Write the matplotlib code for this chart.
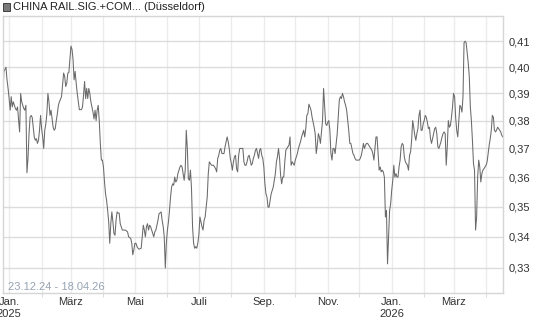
import matplotlib
matplotlib.use("Agg")
import matplotlib.pyplot as plt
from matplotlib.patches import Rectangle
from matplotlib.ticker import FixedLocator, NullLocator, FuncFormatter
import pandas as pd

plt.rcParams["font.family"] = ["Liberation Sans", "DejaVu Sans"]

TITLE = "CHINA RAIL.SIG.+COM... (Düsseldorf)"
RANGE_TEXT = "23.12.24 - 18.04.26"
START = pd.Timestamp("2024-12-23")

# days after 23.12.24 and the price on that day
day_offsets = [
    3, 4, 6, 7, 8, 9, 10, 11, 12, 13, 14, 15, 16, 17, 18, 19, 20, 21, 23, 24,
    25, 26, 27, 28, 29, 30, 31, 32, 33, 34, 35, 36, 37, 38, 39, 40, 41, 42, 43, 44,
    45, 46, 47, 48, 49, 50, 51, 52, 53, 54, 55, 56, 57, 59, 60, 61, 62, 63, 64, 65,
    66, 67, 68, 69, 70, 71, 72, 73, 74, 75, 76, 78, 79, 80, 81,
    82, 83, 84, 85, 86, 87, 88, 89, 90, 91, 92, 93, 94, 95, 96, 97, 98, 99, 100, 101,
    102, 103, 104, 105, 106, 107, 108, 109, 110, 111, 112, 113, 114, 115, 116, 117, 119, 120, 122, 123,
    125, 126, 127, 128, 129, 130, 131, 132, 133, 135, 136, 137, 138, 139, 140, 141, 142, 143, 144, 145,
    146, 147, 148, 149, 150, 151, 152, 154, 155, 156, 157, 158, 159, 160, 161,
    162, 163, 164, 165, 166, 167, 168, 169, 170, 171, 172, 173, 174, 175, 176, 177, 178, 179, 180, 181,
    182, 183, 184, 185, 186, 187, 188, 189, 190, 191, 192, 193, 194, 195, 196, 197, 198, 199, 200, 201,
    202, 203, 204, 205, 206, 207, 208, 209, 210, 211, 212, 213, 214, 215, 216, 217, 218, 219, 220, 221,
    222, 223, 224, 225, 226, 227, 228, 229, 230, 231, 232, 233, 234, 235, 236, 237, 238, 239, 240, 241,
    242, 243, 244, 245, 246, 247, 248, 249, 250, 251, 252, 253, 254, 255, 256, 257, 258, 259, 260, 261,
    262, 263, 264, 265, 266, 267, 268, 269, 270, 271, 272, 273, 274, 275, 276, 277, 278, 279, 280, 281,
    282, 283, 284, 285, 286, 287, 288, 289, 290, 291, 292, 293, 294, 295, 296, 297, 298, 299, 300, 301,
    302, 303, 304, 305, 306, 307, 308, 309, 310, 311, 312, 313, 314, 315, 316, 317, 318, 319, 320, 321,
    322, 323, 324, 325, 326, 327, 328, 329, 330, 331, 332, 333, 334, 335, 336, 337, 338, 339, 340, 341,
    343, 344, 345, 346, 347, 348, 349, 350, 351, 352, 353, 354, 355, 356, 357, 358, 359, 360, 361, 362,
    363, 364, 365, 366, 367, 368, 369, 370, 371, 372, 373, 374, 375, 376, 377, 378, 379, 380, 381, 382,
    383, 384, 385, 386, 387, 388, 389, 390, 391, 392, 393, 394, 395, 396, 397, 398, 399, 400, 401,
    402, 403, 404, 405, 406, 407, 408, 409, 410, 411, 412, 413, 414, 415, 416, 417, 418, 419, 420, 421,
    422, 423, 424, 425, 426, 427, 428, 429, 430, 431, 432, 433, 434, 435, 436, 437, 438, 439, 440, 441,
    442, 443, 444, 445, 446, 447, 448, 449, 450, 451, 452, 453, 454, 455, 456, 457, 458, 459, 460, 461,
    462, 463, 464, 465, 466, 467, 468, 469, 470, 471, 472, 473, 474, 475, 476, 477, 478, 479, 480,
]
prices = [
    .3888, .3983, .3999, .3951, .3919, .3881, .3838, .3888, .3850, .3869, .3856, .3844, .3838, .3850, .3806, .3759, .3900, .3869, .3844, .3838,
    .3856, .3615, .3665, .3753, .3812, .3819, .3812, .3776, .3741, .3729, .3735, .3718, .3729, .3765, .3819, .3771, .3741, .3700, .3765, .3788,
    .3825, .3900, .3869, .3819, .3838, .3806, .3776, .3765, .3771, .3800, .3825, .3856, .3869, .3888, .3932, .3977, .3964, .3926, .3938, .3977,
    .3979, .4029, .4081, .4068, .4029, .3951, .3983, .3938, .3900, .3869, .3840, .3840, .3850, .3894, .3945,
    .3881, .3919, .3881, .3919, .3900, .3869, .3850, .3831, .3806, .3838, .3800, .3838, .3856, .3800, .3718, .3659, .3659, .3635, .3583, .3543,
    .3520, .3487, .3449, .3379, .3443, .3482, .3449, .3411, .3405, .3454, .3482, .3478, .3478, .3443, .3433, .3422, .3422, .3422, .3416, .3400,
    .3395, .3379, .3342, .3358, .3379, .3379, .3368, .3363, .3360, .3363, .3400, .3438, .3422, .3400, .3433, .3443, .3422, .3438, .3433, .3422,
    .3411, .3400, .3416, .3422, .3438, .3454, .3476, .3482, .3454, .3433, .3400, .3300, .3379, .3422, .3449,
    .3487, .3532, .3566, .3577, .3572, .3600, .3583, .3589, .3612, .3624, .3635, .3641, .3635, .3612, .3589, .3624, .3765, .3700, .3594, .3589,
    .3624, .3560, .3433, .3379, .3363, .3368, .3363, .3379, .3405, .3465, .3449, .3433, .3422, .3454, .3465, .3498, .3532, .3612, .3653, .3647,
    .3641, .3641, .3641, .3635, .3629, .3618, .3665, .3676, .3694, .3700, .3682, .3682, .3682, .3706, .3724, .3741, .3724, .3700, .3665, .3647,
    .3624, .3653, .3671, .3676, .3629, .3618, .3676, .3700, .3700, .3700, .3700, .3653, .3641, .3641, .3653, .3671, .3676, .3659, .3641, .3647,
    .3665, .3676, .3694, .3700, .3682, .3665, .3694, .3700, .3676, .3665, .3635, .3577, .3543, .3532, .3498, .3498, .3520, .3543, .3555, .3566,
    .3589, .3612, .3653, .3671, .3700, .3665, .3606, .3577, .3600, .3600, .3653, .3694, .3700, .3706, .3712, .3741, .3641, .3653, .3647, .3641,
    .3659, .3671, .3682, .3700, .3712, .3724, .3741, .3753, .3765, .3741, .3771, .3819, .3825, .3860, .3850, .3838, .3813, .3794, .3776, .3753,
    .3682, .3712, .3753, .3741, .3718, .3759, .3800, .3919, .3850, .3788, .3782, .3794, .3800, .3765, .3682, .3659, .3700, .3700, .3682, .3718,
    .3753, .3812, .3875, .3888, .3881, .3900, .3888, .3869, .3856, .3838, .3800, .3765, .3718, .3718, .3700, .3682, .3676, .3665, .3659, .3659,
    .3659, .3665, .3676, .3694, .3718, .3700, .3712, .3718, .3718, .3712, .3706, .3700, .3694, .3682, .3659, .3700, .3741, .3741, .3682, .3624,
    .3635, .3618, .3624, .3618, .3600, .3465, .3487, .3313, .3400, .3487, .3509, .3555, .3589, .3641, .3600, .3612, .3600, .3600, .3635, .3659,
    .3706, .3718, .3712, .3671, .3653, .3647, .3641, .3624, .3676, .3688, .3729, .3800, .3776, .3747, .3729, .3753, .3771, .3819, .3838,
    .3765, .3765, .3788, .3800, .3819, .3812, .3794, .3771, .3776, .3735, .3718, .3735, .3753, .3771, .3776, .3753, .3706, .3700, .3712, .3724,
    .3741, .3753, .3759, .3753, .3641, .3706, .3800, .3776, .3782, .3812, .3850, .3900, .3888, .3812, .3765, .3741, .3800, .3856, .3850, .3831,
    .3888, .4094, .4100, .4094, .4055, .4016, .3964, .3850, .3800, .3729, .3647, .3624, .3422, .3465, .3600, .3659, .3635, .3583, .3612, .3624,
    .3629, .3635, .3641, .3653, .3682, .3712, .3735, .3765, .3819, .3812, .3765, .3759, .3765, .3776, .3771, .3765, .3759, .3747, .3741,
]

y_ticks = [0.33, 0.34, 0.35, 0.36, 0.37, 0.38, 0.39, 0.40, 0.41]
month_names = {1: "Jan.", 3: "März", 5: "Mai", 7: "Juli", 9: "Sep.", 11: "Nov."}

dates = START + pd.to_timedelta(day_offsets, unit="D")

fig = plt.figure(figsize=(5.45, 3.27), dpi=100)
ax = fig.add_axes([0.005, 0.104, 0.918, 0.847])
ax.plot(dates, prices, color="#6a6a6a", lw=0.75)

ax.set_yscale("log")
ax.set_ylim(0.3222, 0.420)
ax.set_xlim(START + pd.Timedelta(days=2.9), START + pd.Timedelta(days=480.2))

ax.yaxis.set_major_locator(FixedLocator(y_ticks))
ax.yaxis.set_minor_locator(NullLocator())
ax.yaxis.set_major_formatter(FuncFormatter(lambda v, p: f"{v:.2f}".replace(".", ",")))
ax.yaxis.tick_right()

months = pd.date_range("2025-01-01", "2026-04-01", freq="MS")
major = [m for m in months if m.month in month_names]
minor = [m for m in months if m.month not in month_names]
labels = [month_names[m.month] + (f"\n{m.year}" if m.month == 1 else "") for m in major]
ax.set_xticks(major)
ax.set_xticklabels(labels)
ax.set_xticks(minor, minor=True)

ax.grid(axis="x", which="both", color="#ececec", lw=1)
ax.grid(axis="y", which="major", color="#dcdcdc", lw=1)
ax.set_axisbelow(True)

ax.tick_params(axis="x", which="major", length=0, pad=3, labelsize=8, labelcolor="#333333")
ax.tick_params(axis="x", which="minor", length=3, color="#d4d4d4")
ax.tick_params(axis="y", length=0, pad=4, labelsize=8, labelcolor="#333333")
for s in ax.spines.values():
    s.set_color("#d6d6d6")
    s.set_linewidth(1)

fig.patches.append(Rectangle((3 / 545, 1 - 10.5 / 327), 7 / 545, 7 / 327,
                             transform=fig.transFigure, facecolor="#7a7a7a",
                             edgecolor="#404040", lw=0.7))
fig.text(13 / 545, 1 - 7 / 327, TITLE, va="center", ha="left", fontsize=8, color="#222222")
fig.text(8 / 545, 1 - 287 / 327, RANGE_TEXT, va="center", ha="left", fontsize=8, color="#97a3b4")

fig.savefig("out.png", dpi=100)
